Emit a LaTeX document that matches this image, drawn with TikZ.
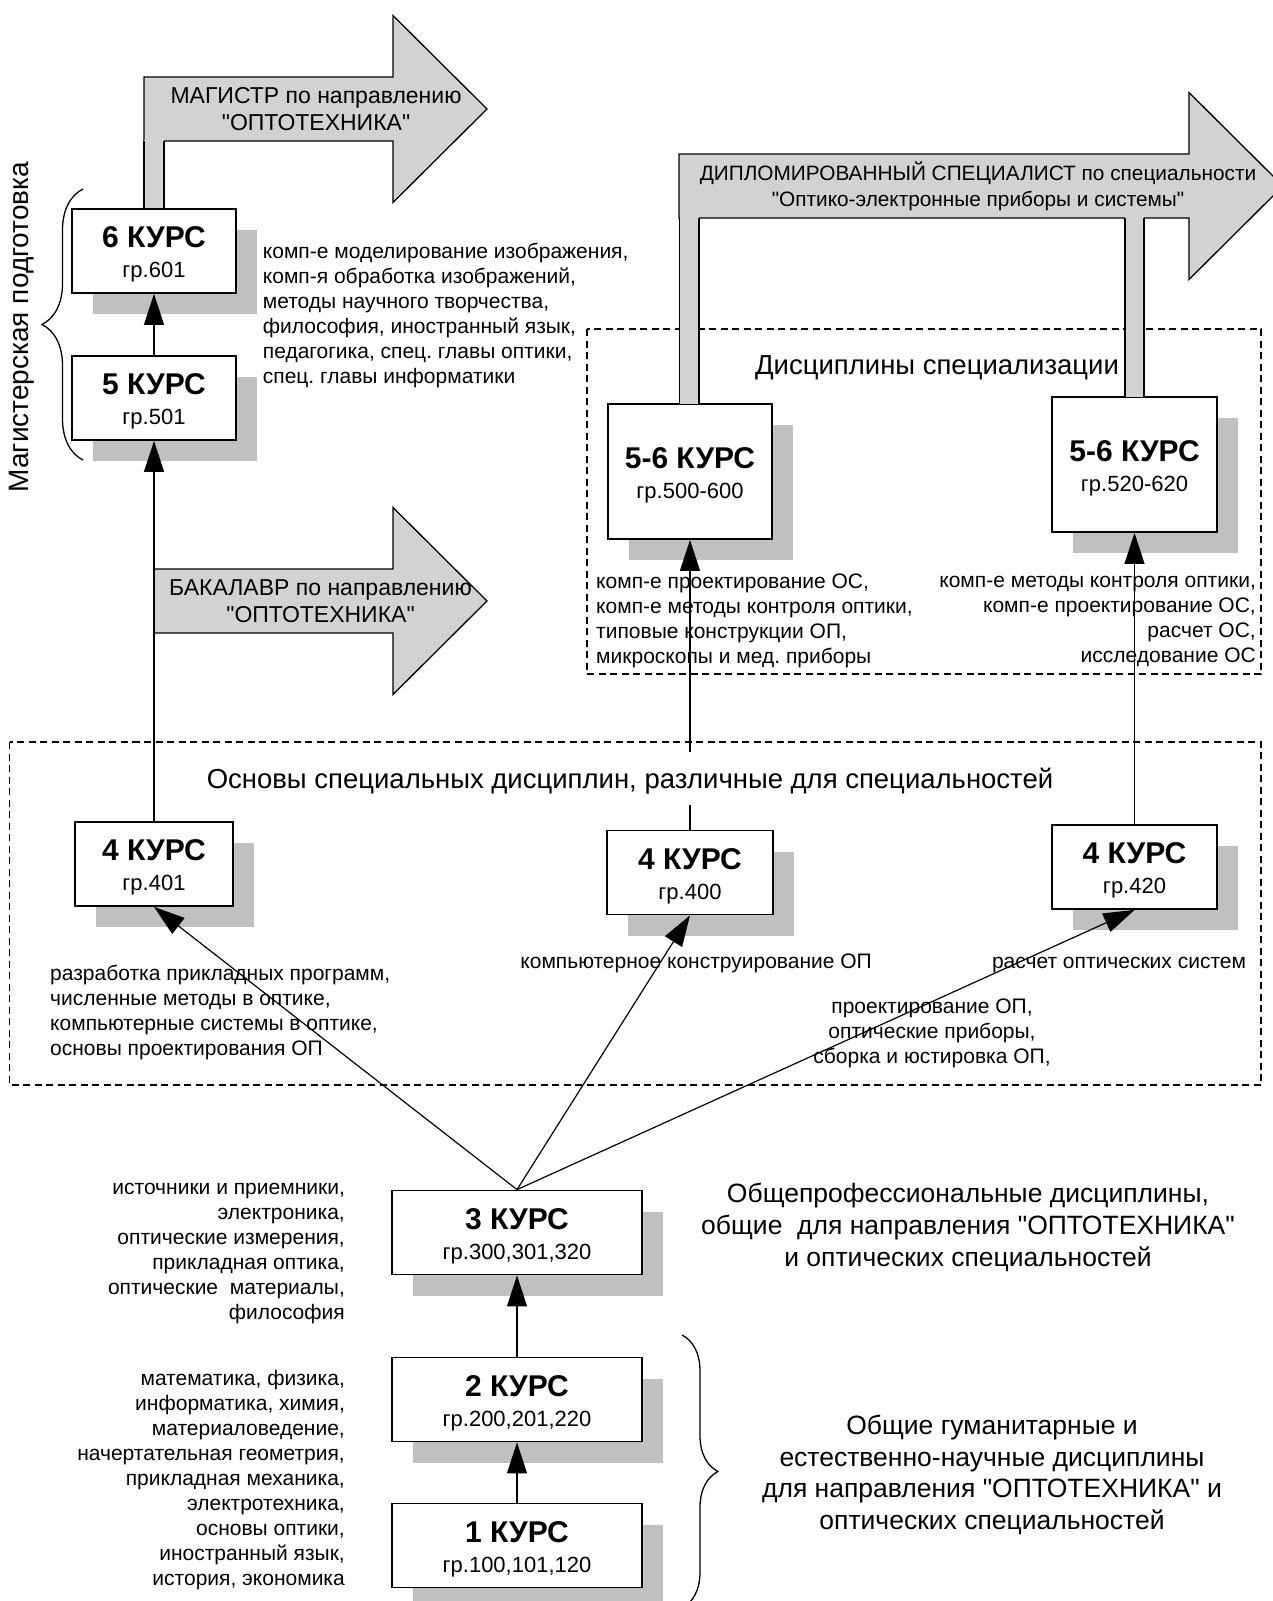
\documentclass[tikz,border=0pt]{standalone}
\usepackage{fontspec}
\setmainfont{Liberation Sans}[Ligatures=TeXOff]
\usetikzlibrary{arrows.meta,shadows,decorations.pathreplacing}
\definecolor{shadowgray}{RGB}{192,192,192}
\definecolor{arrowgray}{RGB}{210,210,210}
\newcommand\myfs[2]{\fontsize{#1}{#2}\selectfont}
\newcommand\kurstext[2]{{\bfseries\myfs{30}{30}\rule{0pt}{28.5pt}#1}\\#2}
\tikzset{
  kbox/.style={draw, line width=1.8pt, fill=white, inner sep=0pt, align=center,
    font=\myfs{22}{30},
    drop shadow={shadow xshift=21pt, shadow yshift=-21pt, fill=shadowgray, opacity=1}},
  conn/.style={line width=1.2pt, -{Triangle[length=31pt,width=20pt]}},
  desc/.style={font=\myfs{21}{25}, inner sep=0pt},
  sect/.style={font=\myfs{27.5}{32}, inner sep=0pt, align=center},
  bigarrow/.style={fill=arrowgray, draw, line width=1.3pt, line join=miter},
  stemline/.style={line width=1.3pt},
  dashbox/.style={draw, dash pattern=on 7pt off 4.5pt, line width=1.2pt},
  alabel/.style={font=\myfs{23}{26.5}, align=center, inner sep=0pt},
  bracestyle/.style={line width=1.3pt, decorate},
}
\begin{document}
\frenchspacing
\begin{tikzpicture}[x=1pt,y=-1pt]
\useasboundingbox (0,0) rectangle (1273,1601);
\clip (0,0) rectangle (1273,1601);

% dashed group frames
\draw[dashbox] (587,329) rectangle (1261,674);
\draw[dashbox] (9.5,742) rectangle (1261,1085);

% big arrows
\filldraw[bigarrow] (144,77) -- (393,77) -- (393,15.5) -- (487,109) -- (393,202.5) -- (393,141) -- (144,141) -- cycle;
\node[alabel] (magl) at (316,109) {МАГИСТР по направлению\\"ОПТОТЕХНИКА"};

\filldraw[bigarrow] (679,154) -- (1189,154) -- (1189,92.5) -- (1283,186) -- (1189,279.5) -- (1189,218) -- (679,218) -- cycle;
\node[alabel, font=\myfs{20.8}{26}] (dipl) at (978,186) {ДИПЛОМИРОВАННЫЙ СПЕЦИАЛИСТ по специальности\\"Оптико-электронные приборы и системы"};

\filldraw[bigarrow] (154,569) -- (393,569) -- (393,507.5) -- (487,601) -- (393,694.5) -- (393,633) -- (154,633) -- cycle;
\node[alabel] (bakl) at (320.5,601) {БАКАЛАВР по направлению\\"ОПТОТЕХНИКА"};

% course boxes
\node[kbox, minimum width=164pt, minimum height=84pt] (b6) at (154,251) {\kurstext{6 КУРС}{гр.601}};
\node[kbox, minimum width=164pt, minimum height=84pt] (b5) at (154,398) {\kurstext{5 КУРС}{гр.501}};
\node[kbox, minimum width=164pt, minimum height=135pt] (b56a) at (690,471.5) {\kurstext{5-6 КУРС}{гр.500-600}};
\node[kbox, minimum width=165pt, minimum height=135pt] (b56b) at (1134.5,464.5) {\kurstext{5-6 КУРС}{гр.520-620}};
\node[kbox, minimum width=158pt, minimum height=84pt] (b401) at (154,864) {\kurstext{4 КУРС}{гр.401}};
\node[kbox, minimum width=166pt, minimum height=84pt] (b400) at (690,872.5) {\kurstext{4 КУРС}{гр.400}};
\node[kbox, minimum width=165pt, minimum height=84pt] (b420) at (1134.5,867) {\kurstext{4 КУРС}{гр.420}};
\node[kbox, minimum width=250pt, minimum height=84pt] (b3) at (517,1232.5) {\kurstext{3 КУРС}{гр.300,301,320}};
\node[kbox, minimum width=250pt, minimum height=84pt] (b2) at (517,1399.5) {\kurstext{2 КУРС}{гр.200,201,220}};
\node[kbox, minimum width=250pt, minimum height=84pt] (b1) at (517,1545.5) {\kurstext{1 КУРС}{гр.100,101,120}};

% stems from boxes to the big arrows
\coordinate (magS1) at (144,141); \coordinate (magS2) at (164,141);
\fill[arrowgray] (144,140) rectangle ([xshift=10pt]b6.north);
\draw[stemline] (magS1) -- ([xshift=-10pt]b6.north) (magS2) -- ([xshift=10pt]b6.north);

\coordinate (dipS1) at (679.5,218); \coordinate (dipS2) at (699,218);
\fill[arrowgray] (679.5,217) rectangle (699,404);
\draw[stemline] (dipS1) -- (679.5,404) (dipS2) -- (699,404);

\coordinate (dipS3) at (1125,218); \coordinate (dipS4) at (1144,218);
\fill[arrowgray] (1125,217) rectangle (1144,397);
\draw[stemline] (dipS3) -- (1125,397) (dipS4) -- (1144,397);

% braces and side titles
\draw[bracestyle, decoration={brace, amplitude=41pt}] (83,460) -- (83,189);
\node[rotate=90, font=\myfs{28}{32}, inner sep=0pt] (magtxt) at (22,327) {Магистерская подготовка};
\draw[bracestyle, decoration={brace, amplitude=36pt}] (682,1335) -- (682,1608);

% descriptions
\node[desc, anchor=west, align=left] (d6) at (262.7,315.5) {комп-е моделирование изображения,\\комп-я обработка изображений,\\методы научного творчества,\\философия, иностранный язык,\\педагогика, спец. главы оптики,\\спец. главы информатики};
\node[desc, anchor=west, align=left] (d56a) at (596,621) {комп-е проектирование ОС,\\комп-е методы контроля оптики,\\типовые конструкции ОП,\\микроскопы и мед. приборы};
\node[desc, anchor=east, align=right] (d56b) at (1256,621) {комп-е методы контроля оптики,\\комп-е проектирование ОС,\\расчет ОС,\\исследование ОС};
\node[desc, anchor=west, align=left] (d401) at (50,1012) {разработка прикладных программ,\\численные методы в оптике,\\компьютерные системы в оптике,\\основы проектирования ОП};
\node[desc, anchor=base east] (d400) at (872,968) {компьютерное конструирование ОП};
\node[desc, anchor=base] (d420) at (1119,968) {расчет оптических систем};
\node[desc, align=center] (d420b) at (932,1033) {проектирование ОП,\\оптические приборы,\\сборка и юстировка ОП,};
\node[desc, anchor=east, align=right] (d3) at (345,1254) {источники и приемники,\\электроника,\\оптические измерения,\\прикладная оптика,\\оптические\ \ материалы,\\философия};
\node[desc, anchor=east, align=right] (d12) at (345,1480) {математика, физика,\\информатика, химия,\\материаловедение,\\начертательная геометрия,\\прикладная механика,\\электротехника,\\основы оптики,\\иностранный язык,\\история, экономика};

\node[sect, anchor=base] (tspec) at (937,374) {Дисциплины специализации};
\node[sect, font=\myfs{26.5}{32}] (t3) at (968,1227) {Общепрофессиональные дисциплины,\\общие\ \ для направления "ОПТОТЕХНИКА"\\и оптических специальностей};
\node[sect, font=\myfs{26.5}{31.5}] (t12) at (992,1475) {Общие гуманитарные и\\естественно-научные дисциплины\\для направления "ОПТОТЕХНИКА" и\\оптических специальностей};

% connectors
\draw[conn] (b5) -- (b6);
\draw[conn] (b401) -- (b5);
\draw[conn] (b400) -- (b56a);
\draw[conn] (b420) -- (b56b);
\draw[conn] (b3.north) -- (b401.south);
\draw[conn] (b3.north) -- (b400.south);
\draw[conn] (b3.north) -- (b420.south);
\draw[conn] (b2) -- (b3);
\draw[conn] (b1) -- (b2);

% title over the connector
\node[sect, anchor=base, fill=white, text height=36pt, text depth=17pt] (tosn) at (630,788) {Основы специальных дисциплин, различные для специальностей};
\end{tikzpicture}
\end{document}
